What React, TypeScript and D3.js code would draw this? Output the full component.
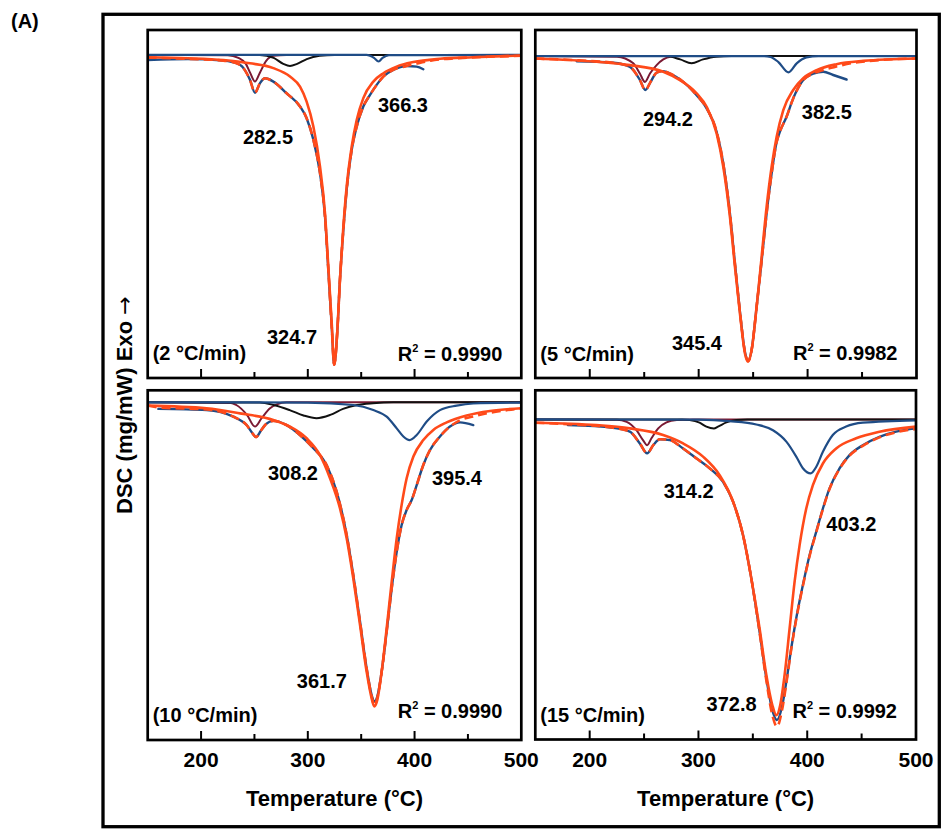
import React from 'react';
import * as d3 from 'd3';

type Pt = [number, number];

// ---------- shared labels ----------
const xTicks = [200, 250, 300, 350, 400, 450];
const xTickLabels = [200, 300, 400, 500];
const heatingRates = ['(2 °C/min)', '(5 °C/min)', '(10 °C/min)', '(15 °C/min)'];
const r2Values = ['0.9990', '0.9982', '0.9990', '0.9992'];
const peakLabels = [
  ['282.5', '366.3', '324.7'],
  ['294.2', '382.5', '345.4'],
  ['308.2', '395.4', '361.7'],
  ['314.2', '403.2', '372.8'],
];

// ---------- 2 °C/min ----------
const p2Main: Pt[] = [[150,-0.08],[187.7,-0.11],[220.9,-0.17],[245.8,-0.28],[267.7,-0.44],[283.3,-0.72],[292.7,-1.06],[298.9,-1.56],[305.2,-2.39],[311.4,-3.72],[316.1,-5.28],[319.2,-7.06],[322.4,-8.94],[324.7,-10.33],[327.7,-9.17],[330.1,-7.5],[333.3,-5.72],[336.4,-4.39],[341.1,-3.06],[345.8,-2.17],[352,-1.44],[361.4,-0.89],[370.8,-0.61],[383.2,-0.39],[398.8,-0.24],[423.8,-0.13],[455,-0.08],[500,-0.02]];
const p2Data: Pt[] = [[150,-0.17],[187.7,-0.14],[220.9,-0.19],[236.4,-0.33],[245.8,-0.83],[250.5,-1.26],[255.2,-0.94],[259.9,-0.78],[267.7,-0.89],[280.2,-1.28],[292.7,-1.72],[298.9,-2.11],[305.2,-2.83],[311.4,-3.94],[316.1,-5.39],[319.2,-7.17],[322.4,-9.06],[324.7,-10.33],[327.7,-9.17],[330.1,-7.5],[333.3,-5.83],[336.4,-4.5],[341.1,-3.17],[345.8,-2.39],[352,-1.72],[358.3,-1.33],[364.5,-1.0],[370.8,-0.72],[380.1,-0.5],[392.6,-0.37],[401.9,-0.39],[408.2,-0.48]];
const p2Fit: Pt[] = [[150,-0.09],[187.7,-0.13],[220.9,-0.19],[236.4,-0.33],[245.8,-0.83],[250.5,-1.26],[255.2,-0.94],[259.9,-0.78],[267.7,-0.89],[280.2,-1.28],[292.7,-1.72],[298.9,-2.11],[305.2,-2.83],[311.4,-3.94],[316.1,-5.39],[319.2,-7.17],[322.4,-9.06],[324.7,-10.33],[327.7,-9.17],[330.1,-7.5],[333.3,-5.83],[336.4,-4.5],[341.1,-3.17],[345.8,-2.39],[352,-1.72],[358.3,-1.33],[364.5,-1.0],[370.8,-0.72],[380.1,-0.5],[392.6,-0.37],[401.9,-0.29],[415,-0.19],[440,-0.11],[470,-0.06],[500,-0.03]];
const p2Maroon: Pt[] = [[150,0],[225,-0.01],[235,-0.1],[242,-0.3],[246,-0.6],[250.5,-0.89],[255,-0.6],[261,-0.2],[268,-0.03],[280,0],[500,0]];
const p2Black: Pt[] = [[150,0],[255,0],[268,-0.1],[277,-0.3],[283.3,-0.37],[290,-0.3],[299,-0.14],[311,-0.03],[325,0],[500,0]];
const p2Blue: Pt[] = [[150,0],[355,0],[362,-0.1],[366.3,-0.22],[370,-0.1],[376,-0.01],[500,0]];

// ---------- 5 °C/min ----------
const p5Main: Pt[] = [[150,-0.08],[206.3,-0.19],[236.9,-0.3],[267.5,-0.52],[282.8,-0.8],[298.1,-1.24],[307.3,-1.69],[316.5,-2.58],[322.6,-3.69],[328.7,-5.36],[333.3,-7.02],[337.9,-8.58],[342.5,-9.91],[345.4,-10.19],[348.6,-9.8],[353.2,-8.36],[357.8,-6.69],[362.4,-5.02],[367,-3.69],[371.6,-2.69],[377.7,-1.8],[386.8,-1.13],[396,-0.74],[408.3,-0.47],[426.6,-0.27],[451.1,-0.16],[500,-0.08]];
const p5Data: Pt[] = [[188,-0.17],[221.6,-0.22],[236.9,-0.36],[246.1,-0.8],[251,-1.13],[256,-0.85],[261.4,-0.55],[267.5,-0.5],[273.7,-0.58],[285.9,-0.86],[298.1,-1.3],[307.3,-1.74],[316.5,-2.52],[322.6,-3.58],[328.7,-5.24],[333.3,-6.91],[337.9,-8.52],[342.5,-9.86],[345.5,-10.16],[348.6,-9.8],[353.2,-8.36],[357.8,-6.83],[362.4,-5.24],[367,-3.91],[371.6,-2.86],[374.6,-2.52],[380.7,-2.02],[386.8,-1.41],[396,-0.8],[405.2,-0.58],[414.4,-0.52],[423.5,-0.63],[435.8,-0.78]];
const p5Fit: Pt[] = [[150,-0.08],[188,-0.14],[221.6,-0.22],[236.9,-0.36],[246.1,-0.8],[251,-1.13],[256,-0.85],[261.4,-0.55],[267.5,-0.5],[273.7,-0.58],[285.9,-0.86],[298.1,-1.3],[307.3,-1.74],[316.5,-2.52],[322.6,-3.58],[328.7,-5.24],[333.3,-6.91],[337.9,-8.52],[342.5,-9.86],[345.5,-10.16],[348.6,-9.8],[353.2,-8.36],[357.8,-6.83],[362.4,-5.24],[367,-3.91],[371.6,-2.86],[374.6,-2.52],[380.7,-2.02],[386.8,-1.41],[396,-0.8],[405.2,-0.58],[414.4,-0.46],[425,-0.36],[440,-0.24],[460,-0.15],[500,-0.08]];
const p5Maroon: Pt[] = [[150,0],[225,-0.02],[240,-0.24],[246,-0.58],[250.7,-0.86],[255.3,-0.58],[261.4,-0.3],[267.5,-0.11],[274,-0.02],[285,0],[500,0]];
const p5Black: Pt[] = [[150,0],[270,0],[283,-0.11],[293.5,-0.24],[304,-0.11],[316,-0.02],[330,0],[500,0]];
const p5Blue: Pt[] = [[150,0],[360,0],[366,-0.03],[373,-0.19],[382.5,-0.54],[390,-0.24],[399,-0.04],[410,0],[500,0]];

// ---------- 10 °C/min ----------
const p10Main: Pt[] = [[150,-0.11],[205.2,-0.2],[236.4,-0.37],[267.7,-0.59],[283.3,-0.81],[298.9,-1.2],[311.4,-1.76],[320.8,-2.53],[330.1,-3.53],[336.4,-4.53],[342.6,-5.87],[348.9,-7.42],[355.1,-8.98],[359.8,-9.87],[362.3,-10.14],[365.1,-9.92],[369.2,-8.98],[373.9,-7.53],[378.6,-5.98],[383.3,-4.53],[387.9,-3.42],[392.6,-2.53],[398.9,-1.81],[408.2,-1.26],[417.6,-0.92],[430.1,-0.67],[448.8,-0.44],[470.7,-0.29],[500,-0.2]];
const p10Data: Pt[] = [[160,-0.22],[205.2,-0.26],[230.2,-0.48],[242.7,-0.76],[248.5,-1.05],[251.5,-1.16],[256,-0.95],[260.5,-0.74],[267.7,-0.62],[280.1,-0.76],[292.6,-1.09],[305.2,-1.53],[317.6,-2.09],[327,-2.98],[336.4,-4.42],[342.6,-5.76],[348.9,-7.31],[355.1,-8.87],[359.8,-9.76],[362.3,-9.98],[365.1,-9.81],[369.2,-8.98],[373.9,-7.64],[378.6,-6.2],[383.3,-4.98],[387.9,-4.09],[392.6,-3.59],[397.3,-3.26],[402,-2.76],[408.2,-2.09],[414.5,-1.59],[423.8,-1.14],[433.2,-0.81],[442.6,-0.67],[455,-0.76]];
const p10Fit: Pt[] = [[150,-0.11],[160,-0.17],[205.2,-0.24],[230.2,-0.48],[242.7,-0.76],[248.5,-1.05],[251.5,-1.16],[256,-0.95],[260.5,-0.74],[267.7,-0.62],[280.1,-0.76],[292.6,-1.09],[305.2,-1.53],[317.6,-2.09],[327,-2.98],[336.4,-4.42],[342.6,-5.76],[348.9,-7.31],[355.1,-8.87],[359.8,-9.8],[362.3,-10.1],[365.1,-9.85],[369.2,-8.98],[373.9,-7.64],[378.6,-6.2],[383.3,-4.98],[387.9,-4.09],[392.6,-3.59],[397.3,-3.26],[402,-2.76],[408.2,-2.09],[414.5,-1.59],[423.8,-1.14],[433.2,-0.81],[442.6,-0.6],[455,-0.47],[470,-0.35],[485,-0.27],[500,-0.21]];
const p10Maroon: Pt[] = [[150,0],[228,-0.02],[233,-0.09],[243,-0.42],[250.5,-0.81],[256.7,-0.53],[264.6,-0.2],[271,-0.07],[280,0],[500,0]];
const p10Black: Pt[] = [[150,0],[255,-0.01],[268,-0.09],[283,-0.26],[296,-0.44],[308.2,-0.53],[321,-0.42],[333,-0.22],[346,-0.09],[361,-0.03],[380,0],[500,0]];
const p10Blue: Pt[] = [[150,0],[300,-0.01],[342.6,-0.09],[361.4,-0.26],[373.9,-0.48],[383.3,-0.87],[389.5,-1.14],[395.4,-1.26],[402,-1.09],[411.4,-0.64],[423.8,-0.26],[439.4,-0.11],[455,-0.04],[500,-0.01]];

// ---------- 15 °C/min ----------
const p15Main: Pt[] = [[150,-0.11],[206.3,-0.19],[236.9,-0.3],[267.5,-0.52],[285.9,-0.8],[304.2,-1.24],[319.5,-1.86],[331.8,-2.74],[341,-3.86],[348.6,-5.3],[356.2,-6.97],[362.4,-8.52],[367.9,-9.52],[371.6,-9.86],[375.2,-9.52],[379.2,-8.52],[383.8,-6.97],[388.4,-5.41],[393,-4.19],[399.1,-2.97],[405.2,-2.19],[414.4,-1.47],[426.6,-0.97],[445,-0.63],[466.4,-0.41],[500,-0.24]];
const p15Data: Pt[] = [[180,-0.19],[221.6,-0.28],[236.9,-0.41],[246.1,-0.8],[252.8,-1.13],[258.4,-0.86],[264.5,-0.66],[273.7,-0.69],[285.9,-0.97],[298.1,-1.3],[310.3,-1.63],[322.6,-2.08],[331.8,-2.74],[341,-3.86],[348.6,-5.3],[356.2,-7.08],[362.4,-8.63],[367.9,-9.69],[372.2,-10.02],[376.5,-9.63],[380.8,-8.74],[385.3,-7.63],[389.9,-6.63],[396,-5.52],[402.2,-4.52],[408.3,-3.74],[414.4,-2.97],[420.5,-2.3],[429.7,-1.63],[438.9,-1.19],[451.1,-0.86],[466.4,-0.58],[481.7,-0.41],[500,-0.3]];
const p15Fit: Pt[] = [[150,-0.11],[180,-0.16],[221.6,-0.28],[236.9,-0.41],[246.1,-0.8],[252.8,-1.13],[258.4,-0.86],[264.5,-0.66],[273.7,-0.69],[285.9,-0.97],[298.1,-1.3],[310.3,-1.63],[322.6,-2.08],[331.8,-2.74],[341,-3.86],[348.6,-5.3],[356.2,-7.1],[362.4,-8.7],[367.9,-9.85],[372.2,-10.24],[376.5,-9.75],[380.8,-8.8],[385.3,-7.66],[389.9,-6.66],[396,-5.55],[402.2,-4.55],[408.3,-3.76],[414.4,-2.99],[420.5,-2.32],[429.7,-1.65],[438.9,-1.21],[451.1,-0.88],[466.4,-0.6],[481.7,-0.43],[500,-0.32]];
const p15Maroon: Pt[] = [[150,0],[225,-0.01],[234,-0.08],[243,-0.36],[249,-0.69],[252.8,-0.86],[256.8,-0.63],[263,-0.3],[270.6,-0.1],[280,-0.02],[295,0],[500,0]];
const p15Black: Pt[] = [[150,0],[285,0],[292,-0.02],[301,-0.11],[307.3,-0.24],[314.2,-0.3],[318,-0.24],[325.7,-0.1],[335,-0.02],[345,0],[500,0]];
const p15Blue: Pt[] = [[150,0],[300,-0.01],[328.7,-0.06],[353.2,-0.17],[368.5,-0.36],[380.8,-0.74],[389.9,-1.24],[396,-1.63],[403.2,-1.8],[408.3,-1.58],[414.4,-1.08],[423.5,-0.52],[435.8,-0.24],[451.1,-0.11],[500,-0.03]];

// ---------- layout (kept apart from data) ----------
const X_DOMAIN: [number, number] = [150, 500];
const panelBoxes = [
  { x0: 147.7, x1: 521.3, y0: 30, y1: 378, yDom: [-10.77, 0.83], labels: false },
  { x0: 535.3, x1: 916.5, y0: 30, y1: 378, yDom: [-10.73, 0.87], labels: false },
  { x0: 147.7, x1: 521.3, y0: 390.3, y1: 740, yDom: [-11.26, 0.4], labels: true },
  { x0: 535.3, x1: 916, y0: 390.3, y1: 739.5, yDom: [-10.67, 0.97], labels: true },
];
// peak label anchors in data coordinates [T, value]
const peakLabelPos: Pt[][] = [
  [[262.7, -2.73], [389.1, -1.67], [285.2, -9.4]],
  [[271.8, -2.1], [417.7, -1.87], [298.4, -9.57]],
  [[286.1, -2.36], [439.7, -2.52], [313.2, -9.29]],
  [[291.0, -2.39], [440.6, -3.49], [330.5, -9.49]],
];
const rateY = [360, 361, 722, 722];
const r2Y = [361, 360, 718, 718];

const COLORS = {
  orange: '#FF4A1A',
  navy: '#1F4C86',
  maroon: '#7A1A33',
  black: '#111111',
};
const FONT = "'Liberation Sans', Arial, Helvetica, sans-serif";

const seriesSets = [
  { main: p2Main, data: p2Data, fit: p2Fit, maroon: p2Maroon, black: p2Black, blue: p2Blue },
  { main: p5Main, data: p5Data, fit: p5Fit, maroon: p5Maroon, black: p5Black, blue: p5Blue },
  { main: p10Main, data: p10Data, fit: p10Fit, maroon: p10Maroon, black: p10Black, blue: p10Blue },
  { main: p15Main, data: p15Data, fit: p15Fit, maroon: p15Maroon, black: p15Black, blue: p15Blue },
];

function Panel({ idx }: { idx: number }) {
  const b = panelBoxes[idx];
  const s = seriesSets[idx];
  const x = d3.scaleLinear().domain(X_DOMAIN).range([b.x0, b.x1]);
  const y = d3.scaleLinear().domain(b.yDom as [number, number]).range([b.y1, b.y0]);
  const line = d3
    .line<Pt>()
    .x((d) => x(d[0]))
    .y((d) => y(d[1]))
    .curve(d3.curveMonotoneX);
  const clipId = `clip-${idx}`;
  return (
    <g>
      <defs>
        <clipPath id={clipId}>
          <rect x={b.x0} y={b.y0} width={b.x1 - b.x0} height={b.y1 - b.y0} />
        </clipPath>
      </defs>
      <g clipPath={`url(#${clipId})`} fill="none" strokeLinejoin="round" strokeLinecap="round">
        <path d={line(s.maroon) || ''} stroke={COLORS.maroon} strokeWidth={2} />
        <path d={line(s.black) || ''} stroke={COLORS.black} strokeWidth={2} />
        <path d={line(s.blue) || ''} stroke={COLORS.navy} strokeWidth={2.2} />
        <path d={line(s.data) || ''} stroke={COLORS.navy} strokeWidth={2.4} />
        <path d={line(s.fit) || ''} stroke={COLORS.orange} strokeWidth={2.6} strokeDasharray="9 5" strokeLinecap="butt" />
        <path d={line(s.main) || ''} stroke={COLORS.orange} strokeWidth={2.6} />
      </g>
      {xTicks.map((t) => (
        <line
          key={t}
          x1={x(t)}
          x2={x(t)}
          y1={b.y1}
          y2={b.y1 - (t % 100 === 0 ? 9 : 6)}
          stroke="#000"
          strokeWidth={2}
        />
      ))}
      <rect x={b.x0} y={b.y0} width={b.x1 - b.x0} height={b.y1 - b.y0} fill="none" stroke="#000" strokeWidth={2.7} />
      {b.labels &&
        xTickLabels.map((t) => (
          <text key={t} x={x(t)} y={767} textAnchor="middle" fontSize={21} fontWeight="bold" fontFamily={FONT}>
            {t}
          </text>
        ))}
      {b.labels && (
        <text x={(b.x0 + b.x1) / 2} y={806} textAnchor="middle" fontSize={22} fontWeight="bold" fontFamily={FONT}>
          Temperature (°C)
        </text>
      )}
      {peakLabels[idx].map((lab, i) => (
        <text
          key={lab}
          x={x(peakLabelPos[idx][i][0])}
          y={y(peakLabelPos[idx][i][1]) + 7}
          textAnchor="middle"
          fontSize={20}
          fontWeight="bold"
          fontFamily={FONT}
        >
          {lab}
        </text>
      ))}
      <text x={b.x0 + 5} y={rateY[idx]} fontSize={20} fontWeight="bold" fontFamily={FONT}>
        {heatingRates[idx]}
      </text>
      <text x={b.x1 - 19} y={r2Y[idx]} textAnchor="end" fontSize={20} fontWeight="bold" fontFamily={FONT}>
        R<tspan fontSize={11} dy={-9}>2</tspan>
        <tspan dy={9}>{' = ' + r2Values[idx]}</tspan>
      </text>
    </g>
  );
}

export default function App() {
  return (
    <svg
      width={943}
      height={830}
      style={{ position: 'absolute', left: 0, top: 0, background: '#fff' }}
      xmlns="http://www.w3.org/2000/svg"
    >
      <rect x={0} y={0} width={943} height={830} fill="#fff" />
      <text x={11} y={28} fontSize={20} fontWeight="bold" fontFamily={FONT}>
        (A)
      </text>
      <rect x={103} y={14.3} width={836.3} height={812.4} fill="none" stroke="#000" strokeWidth={3.3} />
      <text
        transform="translate(132, 514) rotate(-90)"
        textAnchor="start"
        fontSize={22}
        fontWeight="bold"
        fontFamily={FONT}
      >
        DSC (mg/mW) Exo <tspan fontFamily="'DejaVu Sans', sans-serif" fontWeight="normal">→</tspan>
      </text>
      {panelBoxes.map((_, i) => (
        <Panel key={i} idx={i} />
      ))}
    </svg>
  );
}
